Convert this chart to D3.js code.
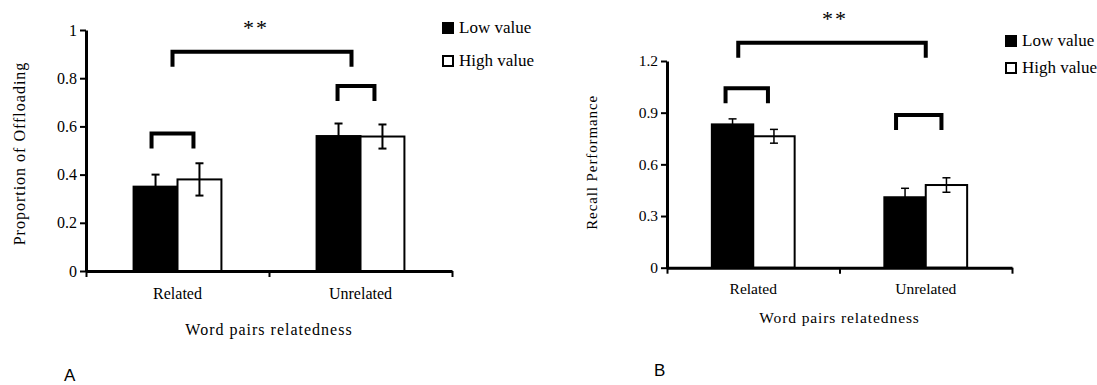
<!DOCTYPE html>
<html>
<head>
<meta charset="utf-8">
<script src="https://cdn.jsdelivr.net/npm/d3@7"></script>
<style>
  body { margin: 0; background: #fff; }
</style>
</head>
<body>
<div id="chart"></div>
<script>
// data
var categories = ["Related", "Unrelated"];
var seriesNames = ["Low value", "High value"];

var offloadLow = [0.35, 0.56];
var offloadHigh = [0.38, 0.558];
var offloadLowErr = [0.05, 0.052];
var offloadHighErr = [0.067, 0.05];
var offloadTicks = [0, 0.2, 0.4, 0.6, 0.8, 1];
var offloadTickLabels = ["0", "0.2", "0.4", "0.6", "0.8", "1"];

var recallLow = [0.832, 0.409];
var recallHigh = [0.763, 0.48];
var recallLowErr = [0.032, 0.052];
var recallHighErr = [0.04, 0.042];
var recallTicks = [0, 0.3, 0.6, 0.9, 1.2];
var recallTickLabels = ["0", "0.3", "0.6", "0.9", "1.2"];

var serif = "Liberation Serif";

var svg = d3.select("#chart")
  .append("svg")
  .attr("width", 1097)
  .attr("height", 385);

function drawPanel(cfg) {
  var g = svg.append("g");

  var x = d3.scaleBand()
    .domain(categories)
    .range([cfg.left, cfg.right]);
  var pairW = x.bandwidth() * 0.48;
  var xSub = d3.scaleBand()
    .domain(seriesNames)
    .range([0, pairW]);
  var y = d3.scaleLinear()
    .domain([0, cfg.yMax])
    .range([cfg.bottom, cfg.top]);

  var rows = [];
  categories.forEach(function (c, i) {
    rows.push({ cat: c, s: seriesNames[0], v: cfg.low[i], e: cfg.lowErr[i] });
    rows.push({ cat: c, s: seriesNames[1], v: cfg.high[i], e: cfg.highErr[i] });
  });
  var barX = function (d) { return x(d.cat) + (x.bandwidth() - pairW) / 2 + xSub(d.s); };
  var barMid = function (d) { return barX(d) + xSub.bandwidth() / 2; };

  // bars
  g.selectAll("rect.bar")
    .data(rows)
    .enter()
    .append("rect")
    .attr("class", "bar")
    .attr("x", barX)
    .attr("y", d => y(d.v))
    .attr("width", xSub.bandwidth())
    .attr("height", d => y(0) - y(d.v))
    .attr("fill", d => d.s == seriesNames[0] ? "#000" : "#fff")
    .attr("stroke", "#000")
    .attr("stroke-width", 2);

  // error bars
  var eb = g.selectAll("g.err")
    .data(rows)
    .enter()
    .append("g")
    .attr("stroke", "#000")
    .attr("stroke-width", cfg.errW);
  eb.append("line")
    .attr("x1", barMid).attr("x2", barMid)
    .attr("y1", d => y(d.v + d.e)).attr("y2", d => y(d.v - d.e));
  eb.append("line")
    .attr("x1", d => barMid(d) - cfg.cap).attr("x2", d => barMid(d) + cfg.cap)
    .attr("y1", d => y(d.v + d.e)).attr("y2", d => y(d.v + d.e));
  eb.append("line")
    .attr("x1", d => barMid(d) - cfg.cap).attr("x2", d => barMid(d) + cfg.cap)
    .attr("y1", d => y(d.v - d.e)).attr("y2", d => y(d.v - d.e));

  // y axis
  var yAxis = d3.axisLeft(y)
    .tickValues(cfg.ticks)
    .tickFormat((d, i) => cfg.tickLabels[i])
    .tickSizeInner(6)
    .tickSizeOuter(0)
    .tickPadding(3);
  var ya = g.append("g")
    .attr("transform", `translate(${cfg.left},0)`)
    .call(yAxis);
  ya.attr("font-family", serif).attr("font-size", cfg.tickFont);
  ya.select(".domain").attr("stroke-width", 3);
  ya.selectAll(".tick line").attr("stroke-width", 2);

  // x axis: edge ticks + category labels
  var xEdge = d3.scaleLinear().domain([0, categories.length]).range([cfg.left, cfg.right]);
  var xa = g.append("g")
    .attr("transform", `translate(0,${cfg.bottom})`)
    .call(d3.axisBottom(xEdge).tickValues([0, 1, 2]).tickFormat("").tickSizeInner(6).tickSizeOuter(0));
  xa.select(".domain").attr("stroke-width", 3);
  xa.selectAll(".tick line").attr("stroke-width", 2);

  g.selectAll("text.cat")
    .data(categories)
    .enter()
    .append("text")
    .attr("class", "cat")
    .attr("x", d => x(d) + x.bandwidth() / 2)
    .attr("y", cfg.bottom + cfg.catDy)
    .attr("text-anchor", "middle")
    .attr("font-size", cfg.catFont)
    .text(d => d);

  // axis titles
  g.append("text")
    .attr("x", (cfg.left + cfg.right) / 2)
    .attr("y", cfg.bottom + cfg.titleDy)
    .attr("text-anchor", "middle")
    .attr("font-size", cfg.catFont)
    .attr("letter-spacing", cfg.spacing)
    .text("Word pairs relatedness");
  g.append("text")
    .attr("transform", `translate(${cfg.yTitleX},${(cfg.top + cfg.bottom) / 2 + cfg.yTitleShift}) rotate(-90)`)
    .attr("text-anchor", "middle")
    .attr("font-size", cfg.yTitleFont)
    .attr("letter-spacing", cfg.spacing)
    .text(cfg.yTitle);

  // significance brackets
  var byName = function (c, s) { return barMid({ cat: c, s: s }); };
  cfg.brackets.forEach(function (b) {
    var x1 = b.x1(x, byName), x2 = b.x2(x, byName);
    var yt = y(b.v);
    g.append("path")
      .attr("d", `M${x1},${yt + 15}V${yt}H${x2}V${yt + 15}`)
      .attr("fill", "none")
      .attr("stroke", "#000")
      .attr("stroke-width", 4);
  });
  g.append("text")
    .attr("x", cfg.starX)
    .attr("y", cfg.starY)
    .attr("text-anchor", "middle")
    .attr("font-size", 22)
    .attr("letter-spacing", 2)
    .text("**");

  // legend
  var lg = g.selectAll("g.leg")
    .data(seriesNames)
    .enter()
    .append("g")
    .attr("transform", (d, i) => `translate(${cfg.legX},${cfg.legY + i * cfg.legStep})`);
  lg.append("rect")
    .attr("x", 1).attr("y", 1)
    .attr("width", 10).attr("height", 10)
    .attr("fill", (d, i) => i == 0 ? "#000" : "#fff")
    .attr("stroke", "#000")
    .attr("stroke-width", 2);
  lg.append("text")
    .attr("x", 17)
    .attr("y", 11)
    .attr("font-size", 17)
    .text(d => d);

  g.selectAll("text")
    .attr("font-family", serif)
    .attr("fill", "#000");

  // panel letter
  g.append("text")
    .attr("x", cfg.letterX)
    .attr("y", cfg.letterY)
    .attr("font-family", "Liberation Sans")
    .attr("font-size", 17)
    .text(cfg.letter);
}

drawPanel({
  left: 86, right: 452, top: 30, bottom: 271, yMax: 1,
  low: offloadLow, high: offloadHigh, lowErr: offloadLowErr, highErr: offloadHighErr,
  ticks: offloadTicks, tickLabels: offloadTickLabels,
  errW: 2, cap: 4, tickFont: 16, catFont: 16, catDy: 28, titleDy: 64, spacing: 1,
  yTitle: "Proportion of Offloading", yTitleFont: 16, yTitleX: 25, yTitleShift: 3,
  brackets: [
    { v: 0.91, x1: (x) => x("Related") + x.bandwidth() / 2 - 5, x2: (x) => x("Unrelated") + x.bandwidth() / 2 - 9 },
    { v: 0.571, x1: (x, b) => b("Related", "Low value") - 4, x2: (x, b) => b("Related", "High value") - 6 },
    { v: 0.768, x1: (x, b) => b("Unrelated", "Low value") - 1, x2: (x, b) => b("Unrelated", "High value") - 8 }
  ],
  starX: 256, starY: 35,
  legX: 442, legY: 22, legStep: 33,
  letter: "A", letterX: 64, letterY: 381
});

drawPanel({
  left: 667, right: 1012, top: 61, bottom: 267.7, yMax: 1.2,
  low: recallLow, high: recallHigh, lowErr: recallLowErr, highErr: recallHighErr,
  ticks: recallTicks, tickLabels: recallTickLabels,
  errW: 1.5, cap: 4, tickFont: 15.5, catFont: 15.5, catDy: 26, titleDy: 55, spacing: 0.9,
  yTitle: "Recall Performance", yTitleFont: 15, yTitleX: 597, yTitleShift: -2,
  brackets: [
    { v: 1.306, x1: (x) => x("Related") + x.bandwidth() / 2 - 15, x2: (x) => x("Unrelated") + x.bandwidth() / 2 },
    { v: 1.042, x1: (x, b) => b("Related", "Low value") - 7, x2: (x, b) => b("Related", "High value") - 6 },
    { v: 0.887, x1: (x, b) => b("Unrelated", "Low value") - 9, x2: (x, b) => b("Unrelated", "High value") - 5 }
  ],
  starX: 835, starY: 26,
  legX: 1005, legY: 35, legStep: 27,
  letter: "B", letterX: 654, letterY: 376
});
</script>
</body>
</html>
